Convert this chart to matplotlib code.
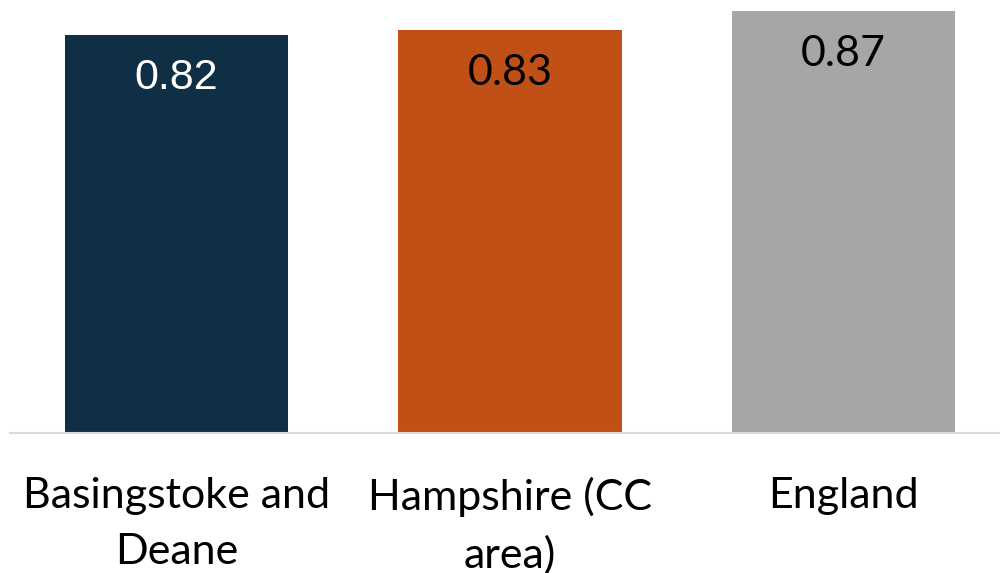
import matplotlib
matplotlib.use("Agg")
import matplotlib.pyplot as plt

areas = ["Basingstoke and\nDeane", "Hampshire (CC\narea)", "England"]
values = [0.82, 0.83, 0.87]
colors = ["#0E2F44", "#C05016", "#A6A6A6"]
label_colors = ["white", "black", "black"]

fig = plt.figure(figsize=(10, 5.73), dpi=100)
ax = fig.add_axes([0.01, 1 - 433 / 573, 0.99, 433 / 573])
x = range(len(areas))
ax.bar(x, values, width=0.67, color=colors, zorder=2)
ax.set_xlim(-0.5, 2.47)
ax.set_ylim(0, 433 / 485)

for i, (v, c) in enumerate(zip(values, label_colors)):
    fam = "Liberation Sans" if i == 0 else "Lato"
    ax.text(i, v - 0.088, f"{v:.2f}", ha="center", va="center",
            fontsize=31, color=c, family=fam)

for i, name in enumerate(areas):
    ax.text(i, -0.09, name, ha="center", va="top", fontsize=31,
            family="Lato", linespacing=1.58, clip_on=False)

for s in ["top", "right", "left"]:
    ax.spines[s].set_visible(False)
ax.spines["bottom"].set_color("#D9D9D9")
ax.spines["bottom"].set_linewidth(1.5)
ax.set_xticks([])
ax.set_yticks([])

fig.savefig("out.png", dpi=100)
